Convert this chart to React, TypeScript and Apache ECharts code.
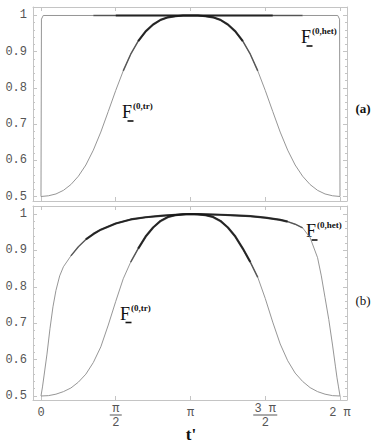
import React, { useEffect, useRef } from "react";
import * as echarts from "echarts";

// t' in units of pi
const T_TR = [0, 0.05, 0.1, 0.15, 0.2, 0.25, 0.3, 0.35, 0.4, 0.45, 0.5, 0.55, 0.6, 0.65, 0.7, 0.75, 0.8, 0.85, 0.9, 0.95, 1.0,
  1.05, 1.1, 1.15, 1.2, 1.25, 1.3, 1.35, 1.4, 1.45, 1.5, 1.55, 1.6, 1.65, 1.7, 1.75, 1.8, 1.85, 1.9, 1.95, 2.0];
const TR_A = [0.5, 0.502, 0.507, 0.517, 0.533, 0.556, 0.587, 0.628, 0.678, 0.735, 0.793, 0.847, 0.893, 0.929, 0.956, 0.975, 0.988, 0.995, 0.998, 1.0, 1.0,
  1.0, 0.998, 0.995, 0.988, 0.975, 0.956, 0.929, 0.893, 0.847, 0.793, 0.735, 0.678, 0.628, 0.587, 0.556, 0.533, 0.517, 0.507, 0.502, 0.5];
const TR_B = [0.5, 0.501, 0.505, 0.512, 0.522, 0.538, 0.56, 0.592, 0.635, 0.695, 0.76, 0.822, 0.868, 0.905, 0.938, 0.963, 0.981, 0.992, 0.997, 0.999, 1.0,
  0.999, 0.997, 0.992, 0.981, 0.963, 0.938, 0.905, 0.868, 0.826, 0.768, 0.703, 0.643, 0.597, 0.563, 0.54, 0.523, 0.512, 0.505, 0.501, 0.5];
const T_HET_A = [0, 0.003, 0.015, 0.35, 0.5, 0.7, 1.0, 1.3, 1.55, 1.75, 1.985, 1.997, 2.0];
const HET_A = [0.5, 0.99, 1.0, 1.0, 1.0, 1.0, 1.0, 1.0, 1.0, 1.0, 1.0, 0.99, 0.5];
const T_HET_B = [0, 0.01, 0.02, 0.04, 0.06, 0.08, 0.1, 0.125, 0.15, 0.2, 0.25, 0.3, 0.35, 0.4, 0.5, 0.6, 0.7, 0.8, 0.9, 1.0,
  1.1, 1.2, 1.3, 1.4, 1.5, 1.6, 1.65, 1.7, 1.75, 1.8, 1.85, 1.875, 1.9, 1.925, 1.95, 1.97, 1.98, 1.99, 2.0];
const HET_B = [0.5, 0.525, 0.555, 0.615, 0.685, 0.745, 0.79, 0.83, 0.855, 0.885, 0.91, 0.93, 0.945, 0.957, 0.974, 0.985, 0.991, 0.995, 0.998, 1.0,
  0.999, 0.998, 0.996, 0.994, 0.99, 0.984, 0.979, 0.972, 0.962, 0.935, 0.88, 0.83, 0.77, 0.71, 0.64, 0.58, 0.55, 0.525, 0.5];

// ranges (in units of pi) where the numerical curves are visibly noisy: [outer (faint), inner (dense)]
const NOISE_TR_A = [[0.55, 1.45], [0.62, 1.38]];
const NOISE_HET_A = [[0.35, 1.75], [0.5, 1.55]];
const NOISE_TR_B = [[0.58, 1.45], [0.64, 1.4]];
const NOISE_HET_B = [[0.2, 1.78], [0.3, 1.68]];

const X_TICKS = [0, 0.5, 1, 1.5, 2];
const X_LABELS = ["{v|0}", "{n|π}\n{b1| }\n{d|2}", "{v|π}", "{n|3 π}\n{b2| }\n{d|2}", "{v|2 π}"];
const Y_MAJOR = [0.5, 0.6, 0.7, 0.8, 0.9, 1.0];
const Y_MINOR = [0.52, 0.54, 0.56, 0.58, 0.62, 0.64, 0.66, 0.68, 0.72, 0.74, 0.76, 0.78, 0.82, 0.84, 0.86, 0.88, 0.92, 0.94, 0.96, 0.98];

const MONO = '"Liberation Mono", "DejaVu Sans Mono", monospace';
const SERIF = '"Liberation Serif", "DejaVu Serif", serif';
const FRAME = "#c4c4c4";
const LABEL = "#555";

const pairs = (ts: number[], vs: number[]) => ts.map((t, i) => [t, vs[i]]);
const within = (p: number[][], r: number[]) => p.filter((d) => d[0] >= r[0] - 1e-9 && d[0] <= r[1] + 1e-9);

export default function App() {
  const ref = useRef<HTMLDivElement>(null);
  useEffect(() => {
    if (!ref.current) return;
    const chart = echarts.init(ref.current, null, { renderer: "svg" });
    const xMin = -0.05351, xMax = 2.04682;
    const yA = [0.48757, 1.02348];
    const yB = [0.48901, 1.02198];

    const xAx = (grid: number, pos: string, labels: boolean) => ({
      type: "value", gridIndex: grid, position: pos, min: xMin, max: xMax,
      axisLine: { show: true, onZero: false, lineStyle: { color: FRAME, width: 1 } },
      axisTick: { show: true, inside: true, length: 4, customValues: X_TICKS, lineStyle: { color: FRAME } },
      axisLabel: labels ? {
        show: true, customValues: X_TICKS, margin: 3,
        formatter: (v: number) => X_LABELS[X_TICKS.indexOf(v)] ?? "",
        rich: {
          v: { fontFamily: MONO, fontSize: 12, color: LABEL, lineHeight: 20 },
          n: { fontFamily: MONO, fontSize: 12, color: LABEL, lineHeight: 11 },
          d: { fontFamily: MONO, fontSize: 12, color: LABEL, lineHeight: 14 },
          b1: { width: 12, height: 1, backgroundColor: LABEL, lineHeight: 2, fontSize: 1 },
          b2: { width: 24, height: 1, backgroundColor: LABEL, lineHeight: 2, fontSize: 1 },
        },
      } : { show: false },
      splitLine: { show: false },
    });
    const yAx = (grid: number, pos: string, r: number[], major: boolean, labels: boolean) => ({
      type: "value", gridIndex: grid, position: pos, min: r[0], max: r[1],
      axisLine: { show: major, onZero: false, lineStyle: { color: FRAME, width: 1 } },
      axisTick: { show: true, inside: true, length: major ? 4 : 2, customValues: major ? Y_MAJOR : Y_MINOR, lineStyle: { color: FRAME } },
      axisLabel: labels ? {
        show: true, customValues: Y_MAJOR, margin: 6, fontFamily: MONO, fontSize: 12, color: LABEL,
        formatter: (v: number) => (Math.abs(v - 1) < 1e-9 ? "1" : v.toFixed(1)),
      } : { show: false },
      splitLine: { show: false },
    });

    const thin = { color: "#8a8a8a", width: 0.9 };
    const faint = { color: "#444", width: 1.5, opacity: 0.8 };
    const dense = { color: "#161616", width: 2.2, opacity: 0.8 };
    const line = (data: number[][], xi: number, yi: number, ls: any, z = 2) => ({
      type: "line", data, xAxisIndex: xi, yAxisIndex: yi, showSymbol: false, symbol: "none",
      lineStyle: ls, z, silent: true, clip: true,
    });
    const noisy = (data: number[][], ranges: number[][], xi: number, yi: number) => [
      line(within(data, ranges[0]), xi, yi, faint, 3),
      line(within(data, ranges[1]), xi, yi, dense, 4),
    ];

    const trA = pairs(T_TR, TR_A), hetA = pairs(T_HET_A, HET_A);
    const trB = pairs(T_TR, TR_B), hetB = pairs(T_HET_B, HET_B);

    const fLabel = (fx: number, fy: number, sup: string) => ({
      type: "group",
      children: [
        { type: "text", x: fx, y: fy, style: { text: "F", font: `18px ${SERIF}`, fill: "#111", align: "center", verticalAlign: "middle" } },
        { type: "text", x: fx + 6, y: fy - 6, style: { text: sup, font: `bold 9px ${SERIF}`, fill: "#111", align: "left", verticalAlign: "middle" } },
        { type: "rect", shape: { x: fx + 0.5, y: fy + 8.2, width: 6, height: 1.6 }, style: { fill: "#111" } },
      ],
    });

    chart.setOption({
      animation: false,
      backgroundColor: "#fff",
      grid: [
        { left: 33, top: 7, width: 314, height: 194 },
        { left: 33, top: 206, width: 314, height: 194 },
      ],
      xAxis: [xAx(0, "bottom", false), xAx(0, "top", false), xAx(1, "bottom", true), xAx(1, "top", false)],
      yAxis: [
        yAx(0, "left", yA, true, true), yAx(0, "right", yA, true, false), yAx(0, "left", yA, false, false), yAx(0, "right", yA, false, false),
        yAx(1, "left", yB, true, true), yAx(1, "right", yB, true, false), yAx(1, "left", yB, false, false), yAx(1, "right", yB, false, false),
      ],
      series: [
        line(trA, 0, 0, thin), line(hetA, 0, 0, thin),
        ...noisy(trA, NOISE_TR_A, 0, 0), ...noisy(hetA, NOISE_HET_A, 0, 0),
        line(trB, 2, 4, thin), line(hetB, 2, 4, thin),
        ...noisy(trB, NOISE_TR_B, 2, 4), ...noisy(hetB, NOISE_HET_B, 2, 4),
      ],
      graphic: [
        fLabel(127, 112, "(0,tr)"),
        fLabel(306, 37, "(0,het)"),
        fLabel(125, 313.5, "(0,tr)"),
        fLabel(311, 231, "(0,het)"),
        { type: "text", x: 363, y: 108, style: { text: "(a)", font: `bold 13px ${SERIF}`, fill: "#111", align: "center", verticalAlign: "middle" } },
        { type: "text", x: 363, y: 300, style: { text: "(b)", font: `13px ${SERIF}`, fill: "#111", align: "center", verticalAlign: "middle" } },
        { type: "text", x: 191, y: 434, style: { text: "t'", font: `bold 17px ${SERIF}`, fill: "#111", align: "center", verticalAlign: "middle" } },
      ],
    });
    return () => chart.dispose();
  }, []);
  return (
    <div style={{ position: "fixed", left: 0, top: 0, width: 374, height: 445, background: "#fff" }}>
      <div ref={ref} style={{ width: 374, height: 445 }} />
    </div>
  );
}
